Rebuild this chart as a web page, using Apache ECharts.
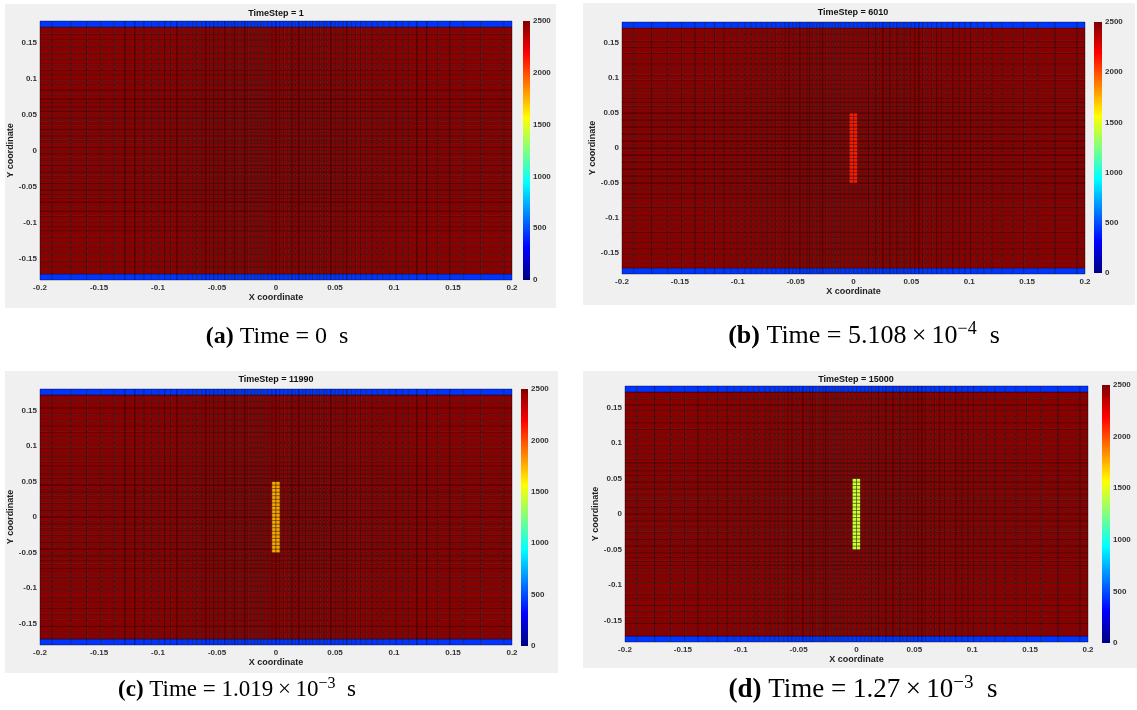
<!DOCTYPE html>
<html><head><meta charset="utf-8">
<script src="https://cdn.jsdelivr.net/npm/echarts@6/dist/echarts.min.js"></script>
<style>html,body{margin:0;padding:0;background:#fff}#c{width:1137px;height:710px}</style>
</head><body><div id="c"></div>
<script>
// ---- data ----
const xEdges = [-0.2, -0.19, -0.174, -0.16, -0.148, -0.137, -0.128, -0.1195, -0.112, -0.1055, -0.0995, -0.094, -0.0888, -0.0839, -0.0793, -0.0749, -0.0707, -0.0667, -0.0629, -0.0593, -0.0558, -0.0525, -0.0493, -0.0462, -0.0432, -0.0403, -0.0375, -0.0347, -0.0319, -0.0291, -0.0263, -0.0235, -0.0208, -0.0182, -0.0156, -0.013, -0.0105, -0.007, -0.0035, 0, 0.0035, 0.007, 0.0105, 0.0135, 0.0165, 0.0195, 0.0225, 0.0255, 0.0285, 0.0315, 0.0345, 0.0375, 0.0405, 0.0435, 0.0466, 0.0498, 0.0531, 0.0566, 0.0602, 0.064, 0.068, 0.0722, 0.0766, 0.0812, 0.086, 0.091, 0.0962, 0.1016, 0.1072, 0.113, 0.1195, 0.128, 0.1375, 0.1475, 0.159, 0.174, 0.193, 0.2];
const yEdges = [-0.18, -0.1716, -0.1623, -0.1532, -0.1445, -0.136, -0.1278, -0.1198, -0.1121, -0.1047, -0.0975, -0.0907, -0.084, -0.0777, -0.0716, -0.0658, -0.0603, -0.055, -0.05, -0.045, -0.04, -0.035, -0.03, -0.025, -0.02, -0.015, -0.01, -0.005, 0, 0.005, 0.01, 0.015, 0.02, 0.025, 0.03, 0.035, 0.04, 0.045, 0.05, 0.055, 0.0603, 0.0658, 0.0716, 0.0777, 0.084, 0.0907, 0.0975, 0.1047, 0.1121, 0.1198, 0.1278, 0.136, 0.1445, 0.1532, 0.1623, 0.1716, 0.18];
const timeSteps = ['1', '6010', '11990', '15000'];
const bulkValue = [2475, 2475, 2475, 2475];
const wallValue = [440, 440, 440, 440];
const rodValue = [null, 2130, 1780, 1450];
const rodX = [-0.0035, 0.0035];
const rodY = [-0.05, 0.05];
const yTickValues = [-0.15, -0.1, -0.05, 0, 0.05, 0.1, 0.15];
const colorMin = 0, colorMax = 2500, colorStep = 500;
const captionLetters = ['(a)', '(b)', '(c)', '(d)'];
const captionMantissa = ['0', '5.108', '1.019', '1.27'];
const captionExponent = [null, '−4', '−3', '−3'];
const jet = ['#000080', '#0000FF', '#0080FF', '#00FFFF', '#80FF80', '#FFFF00', '#FF8000', '#FF0000', '#800000'];

// ---- layout ----
const L = [
  {grid:[40,21,472,259], cb:[523,21,7,259], bg:[5,4,551,304], title:[276,14], cap:[277,337], yGap:24, capSize:24},
  {grid:[622,22,463,252], cb:[1094,22,8,251], bg:[583,3,552,302], title:[853,13], cap:[864,336], yGap:19, capSize:26},
  {grid:[40,389,472,256], cb:[521,389,7,257], bg:[5,371,553,302], title:[276,380], cap:[237,690], yGap:24, capSize:23},
  {grid:[625,386,463,256], cb:[1102,385,8,258], bg:[583,371,554,297], title:[856,380], cap:[863,690], yGap:20, capSize:27}
];

function buildCells(p) {
  const out = [];
  const ny = yEdges.length - 1;
  for (let i = 0; i < xEdges.length - 1; i++) {
    for (let j = 0; j < ny; j++) {
      const x0 = xEdges[i], x1 = xEdges[i+1], y0 = yEdges[j], y1 = yEdges[j+1];
      let v = bulkValue[p];
      if (j === 0 || j === ny - 1) v = wallValue[p];
      const cx = (x0 + x1) / 2, cy = (y0 + y1) / 2;
      if (rodValue[p] !== null && cx > rodX[0] && cx < rodX[1] && cy > rodY[0] && cy < rodY[1]) v = rodValue[p];
      out.push([x0, x1, y0, y1, v]);
    }
  }
  return out;
}

const SANS = 'Liberation Sans, Arial, sans-serif';
const SERIF = 'Liberation Serif, serif';
const lab = {fontSize: 8, fontWeight: 'bold', color: '#333', fontFamily: SANS};
const nameStyle = {fontSize: 9, fontWeight: 'bold', color: '#222', fontFamily: SANS};

const grid = [], xAxis = [], yAxis = [], series = [], graphic = [];
L.forEach((l, p) => {
  grid.push({left: l.grid[0], top: l.grid[1], width: l.grid[2], height: l.grid[3], containLabel: false});
  xAxis.push({gridIndex: p, type: 'value', min: -0.2, max: 0.2, interval: 0.05,
    axisLine: {show: false}, axisTick: {show: false}, splitLine: {show: false},
    axisLabel: Object.assign({margin: 4, showMinLabel: true, showMaxLabel: true}, lab),
    name: 'X coordinate', nameLocation: 'middle', nameGap: 13, nameTextStyle: nameStyle});
  yAxis.push({gridIndex: p, type: 'value', min: -0.18, max: 0.18,
    axisLine: {show: false}, axisTick: {show: false}, splitLine: {show: false},
    axisLabel: Object.assign({margin: 3, customValues: yTickValues}, lab),
    name: 'Y coordinate', nameLocation: 'middle', nameGap: l.yGap, nameRotate: 90, nameTextStyle: nameStyle});
  series.push({type: 'custom', xAxisIndex: p, yAxisIndex: p, progressive: 0, animation: false,
    dimensions: ['x0','x1','y0','y1','v'], encode: {x: [0,1], y: [2,3]},
    data: buildCells(p),
    renderItem: function (params, api) {
      const a = api.coord([api.value(0), api.value(3)]);
      const b = api.coord([api.value(1), api.value(2)]);
      return {type: 'rect', shape: {x: a[0], y: a[1], width: b[0]-a[0], height: b[1]-a[1]},
        style: {fill: api.visual('color'), stroke: 'rgba(0,0,0,0.62)', lineWidth: 0.6}};
    }});
  graphic.push({type: 'rect', z: -10, shape: {x: l.bg[0], y: l.bg[1], width: l.bg[2], height: l.bg[3]}, style: {fill: '#f0f0f0'}});
  graphic.push({type: 'text', z: 100, x: l.title[0], y: l.title[1], style: {text: 'TimeStep = ' + timeSteps[p], fontSize: 9, fontWeight: 'bold', fontFamily: SANS, fill: '#111', align: 'center', verticalAlign: 'middle'}});
  const fs = l.capSize, sup = Math.round(fs * 0.7);
  const capText = '{b|' + captionLetters[p] + '} Time = ' + captionMantissa[p] + (captionExponent[p] ? '\u2009×\u200910{s|' + captionExponent[p] + '}' : '') + '\u2002s';
  graphic.push({type: 'text', z: 100, x: l.cap[0], y: l.cap[1], style: {text: capText, fontSize: fs, fontFamily: SERIF, fill: '#000', align: 'center', verticalAlign: 'middle', lineHeight: fs + 6,
    rich: {b: {fontSize: fs, fontWeight: 'bold', fontFamily: SERIF, lineHeight: fs + 6},
           s: {fontSize: sup, fontFamily: SERIF, lineHeight: sup, verticalAlign: 'top'}}}});
});
// colorbars
L.forEach((l, p) => {
  const gi = 4 + p;
  grid.push({left: l.cb[0], top: l.cb[1], width: l.cb[2], height: l.cb[3]});
  xAxis.push({gridIndex: gi, type: 'value', min: 0, max: 1, show: false});
  yAxis.push({gridIndex: gi, type: 'value', min: colorMin, max: colorMax, interval: colorStep, position: 'right',
    axisLine: {show: false}, axisTick: {show: false}, splitLine: {show: false},
    axisLabel: Object.assign({margin: 3, formatter: v => String(v)}, lab)});
  series.push({type: 'custom', xAxisIndex: gi, yAxisIndex: gi, animation: false,
    data: [[0, 1, colorMin, colorMax]], encode: {x: [0,1], y: [2,3]},
    renderItem: function (params, api) {
      const a = api.coord([api.value(0), api.value(3)]);
      const b = api.coord([api.value(1), api.value(2)]);
      const stops = jet.map((c, k) => ({offset: k / (jet.length - 1), color: c}));
      return {type: 'rect', shape: {x: a[0], y: a[1], width: b[0]-a[0], height: b[1]-a[1]},
        style: {fill: new echarts.graphic.LinearGradient(0, 1, 0, 0, stops)}};
    }});
});

const chart = echarts.init(document.getElementById('c'), null, {renderer: 'canvas'});
chart.setOption({
  animation: false,
  backgroundColor: '#ffffff',
  grid, xAxis, yAxis, series, graphic,
  visualMap: {type: 'continuous', show: false, min: colorMin, max: colorMax, dimension: 4, seriesIndex: [0,1,2,3], inRange: {color: jet}}
});
</script>
</body></html>
